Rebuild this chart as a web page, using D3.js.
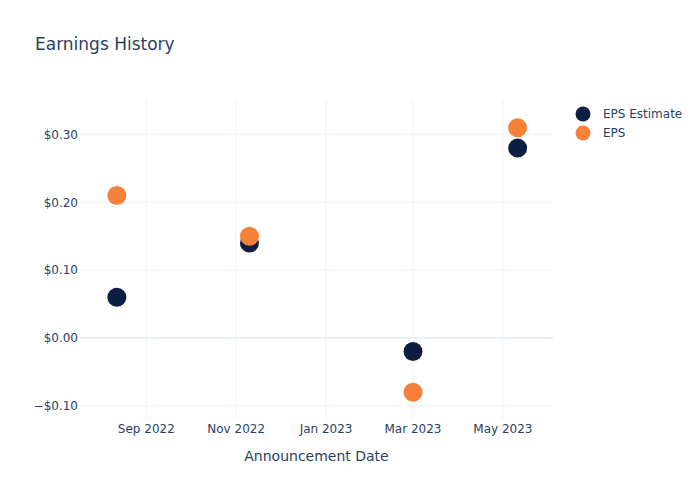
<!DOCTYPE html>
<html><head><meta charset="utf-8">
<script src="https://cdn.jsdelivr.net/npm/d3@7"></script>
<style>body{margin:0;background:#fff}svg{font-family:"DejaVu Sans",verdana,arial,sans-serif}</style>
</head><body><svg id="c" width="700" height="500"></svg>
<script>
const dates = ["2022-08-12","2022-11-10","2023-03-01","2023-05-11"];
const epsEstimate = [0.06, 0.14, -0.02, 0.28];
const eps = [0.21, 0.15, -0.08, 0.31];
const xTicks = ["2022-09-01","2022-11-01","2023-01-01","2023-03-01","2023-05-01"];
const yTicks = [-0.1, 0, 0.1, 0.2, 0.3];
const seriesNames = ["EPS Estimate","EPS"];
const colors = ["#0c1f43","#f6813a"];

const svg = d3.select("#c");
const L=80, R=553, T=100, B=420;
const parse = d3.utcParse("%Y-%m-%d");
const x = d3.scaleUtc().domain([parse("2022-07-18"), parse("2023-06-04")]).range([L,R]);
const y = d3.scaleLinear().domain([-0.1225, 0.3495]).range([B+1,T+1]);
const txt="#2a3f5f", grid="#ebf0f8";

svg.append("g").selectAll("line").data(xTicks).join("line")
  .attr("x1",d=>x(parse(d))).attr("x2",d=>x(parse(d))).attr("y1",T).attr("y2",B)
  .attr("stroke",grid).attr("stroke-width",1);
svg.append("g").selectAll("line").data(yTicks).join("line")
  .attr("x1",L).attr("x2",R).attr("y1",d=>y(d)).attr("y2",d=>y(d))
  .attr("stroke",grid).attr("stroke-width",d=>d===0?2:1);

const fmtY = d => (d<0?"\u2212":"") + "$" + Math.abs(d).toFixed(2);
svg.append("g").selectAll("text").data(yTicks).join("text")
  .attr("x",L-2).attr("y",d=>y(d)).attr("dy","0.35em").attr("text-anchor","end")
  .attr("font-size",12).attr("fill",txt).text(fmtY);
const fmtX = d3.utcFormat("%b %Y");
svg.append("g").selectAll("text").data(xTicks).join("text")
  .attr("x",d=>x(parse(d))).attr("y",433).attr("text-anchor","middle")
  .attr("font-size",12).attr("fill",txt).text(d=>fmtX(parse(d)));

svg.append("text").attr("x",(L+R)/2).attr("y",461).attr("text-anchor","middle")
  .attr("font-size",14).attr("fill",txt).text("Announcement Date");
svg.append("text").attr("x",35).attr("y",50).attr("font-size",17).attr("fill",txt).text("Earnings History");

[epsEstimate, eps].forEach((vals,i)=>{
  svg.append("g").selectAll("circle").data(vals).join("circle")
    .attr("cx",(d,j)=>x(parse(dates[j]))).attr("cy",d=>y(d)).attr("r",9.5)
    .attr("fill",colors[i]);
});

const lg = svg.append("g");
seriesNames.forEach((n,i)=>{
  lg.append("circle").attr("cx",583).attr("cy",114+i*19).attr("r",7.5).attr("fill",colors[i]);
  lg.append("text").attr("x",603).attr("y",114+i*19).attr("dy","0.35em")
    .attr("font-size",12).attr("fill",txt).text(n);
});
</script></body></html>
